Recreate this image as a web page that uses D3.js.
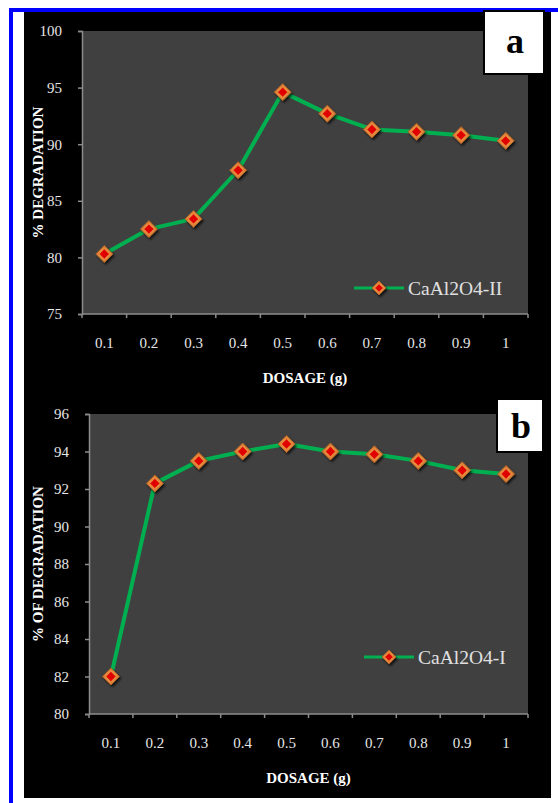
<!DOCTYPE html>
<html>
<head>
<meta charset="utf-8">
<script src="https://cdn.jsdelivr.net/npm/d3@7"></script>
<style>
body { margin: 0; background: #fff; }
svg { display: block; }
svg text { font-family: "Liberation Serif", "Times New Roman", "DejaVu Serif", serif; }
</style>
</head>
<body>
<div id="plotDiv"></div>
<script>
// --- Data ---
const dosage = ["0.1", "0.2", "0.3", "0.4", "0.5", "0.6", "0.7", "0.8", "0.9", "1"];
const degradationII = [80.3, 82.5, 83.4, 87.7, 94.6, 92.7, 91.3, 91.1, 90.8, 90.3];
const degradationI = [82.0, 92.3, 93.5, 94.0, 94.4, 94.0, 93.85, 93.5, 93.0, 92.8];
const yTicksA = [75, 80, 85, 90, 95, 100];
const yTicksB = [80, 82, 84, 86, 88, 90, 92, 94, 96];

const width = 558, height = 803;
const serif = "Liberation Serif, Times New Roman, serif";

// --- SVG Setup ---
const svg = d3.select("#plotDiv")
  .append("svg")
  .attr("width", width)
  .attr("height", height);

const defs = svg.append("defs");
const shadow = defs.append("filter").attr("id", "shadow")
  .attr("x", "-50%").attr("y", "-50%").attr("width", "200%").attr("height", "200%");
shadow.append("feDropShadow")
  .attr("dx", 1.5).attr("dy", 2).attr("stdDeviation", 1.2)
  .attr("flood-color", "#000").attr("flood-opacity", 0.7);

const grad = defs.append("radialGradient").attr("id", "orange");
grad.append("stop").attr("offset", "0%").attr("stop-color", "#f5a050");
grad.append("stop").attr("offset", "100%").attr("stop-color", "#d9782e");

// --- Frame ---
svg.append("rect").attr("x", 24).attr("y", 12).attr("width", 527).attr("height", 786).attr("fill", "#000");
svg.append("rect").attr("x", 9).attr("y", 8).attr("width", 4).attr("height", height - 8).attr("fill", "#0000ff");
svg.append("rect").attr("x", 9).attr("y", 8).attr("width", width - 9).attr("height", 4).attr("fill", "#0000ff");

function diamond(g, r) {
  const outer = `M0,${-r} L${r},0 L0,${r} L${-r},0 Z`;
  const ri = r * 0.55;
  const inner = `M0,${-ri} L${ri},0 L0,${ri} L${-ri},0 Z`;
  g.append("path").attr("d", outer)
    .attr("fill", "url(#orange)").attr("stroke", "#a8622a").attr("stroke-width", 1)
    .attr("filter", "url(#shadow)");
  g.append("path").attr("d", inner).attr("fill", "#e00000");
}

function panel(cfg) {
  const x = d3.scaleBand().domain(dosage).range([cfg.left, cfg.right]);
  const y = d3.scaleLinear().domain([cfg.ticks[0], cfg.ticks[cfg.ticks.length - 1]]).range([cfg.bottom, cfg.top]);

  // plot area
  svg.append("rect")
    .attr("x", cfg.left).attr("y", cfg.top)
    .attr("width", cfg.right - cfg.left).attr("height", cfg.bottom - cfg.top)
    .attr("fill", "#404040");

  // y axis
  const yAxis = svg.append("g")
    .attr("transform", `translate(${cfg.left},0)`)
    .call(d3.axisLeft(y).tickValues(cfg.ticks).tickSize(4).tickPadding(cfg.pad));
  yAxis.attr("font-family", null);
  yAxis.select(".domain").attr("stroke", "#8c8c8c").attr("stroke-width", 1.5);
  yAxis.selectAll(".tick line").attr("stroke", "#8c8c8c").attr("stroke-width", 1.5);
  yAxis.selectAll(".tick text")
    .attr("fill", "#e6e6e6").style("font-size", "15px");

  // x axis (ticks between categories)
  const xAxis = svg.append("g").attr("transform", `translate(0,${cfg.bottom})`);
  xAxis.append("line")
    .attr("x1", cfg.left).attr("x2", cfg.right)
    .attr("stroke", "#8c8c8c").attr("stroke-width", 1.5);
  const edges = dosage.map(d => x(d)).concat([x(dosage[dosage.length - 1]) + x.bandwidth()]);
  xAxis.selectAll(".xt").data(edges).join("line")
    .attr("x1", d => d).attr("x2", d => d).attr("y1", 0).attr("y2", 4)
    .attr("stroke", "#8c8c8c").attr("stroke-width", 1.5);
  xAxis.selectAll("text").data(dosage).join("text")
    .attr("x", d => x(d) + x.bandwidth() / 2)
    .attr("y", 34)
    .attr("text-anchor", "middle")
    .attr("fill", "#e6e6e6").style("font-size", "15px")
    .text(d => d);

  // line
  const line = d3.line()
    .x((d, i) => x(dosage[i]) + x.bandwidth() / 2)
    .y(d => y(d));
  svg.append("path").datum(cfg.values)
    .attr("d", line)
    .attr("fill", "none")
    .attr("stroke", "#00b050").attr("stroke-width", 4)
    .attr("stroke-linejoin", "round");

  // markers
  cfg.values.forEach((v, i) => {
    const g = svg.append("g")
      .attr("transform", `translate(${x(dosage[i]) + x.bandwidth() / 2},${y(v)})`);
    diamond(g, 8.5);
  });

  // legend
  svg.append("line")
    .attr("x1", cfg.legX).attr("x2", cfg.legX + 50)
    .attr("y1", cfg.legY).attr("y2", cfg.legY)
    .attr("stroke", "#00b050").attr("stroke-width", 3);
  diamond(svg.append("g").attr("transform", `translate(${cfg.legX + 25},${cfg.legY})`), 7);
  svg.append("text")
    .attr("x", cfg.legX + 54).attr("y", cfg.legY + 7)
    .attr("fill", "#e0e0e0").style("font-size", "19.5px")
    .text(cfg.name);

  // axis titles
  svg.append("text")
    .attr("x", (cfg.left + cfg.right) / 2).attr("y", cfg.bottom + 69)
    .attr("text-anchor", "middle")
    .attr("fill", "#fff").style("font-weight", "bold").style("font-size", "15px")
    .text("DOSAGE (g)");
  svg.append("text")
    .attr("transform", `translate(43,${(cfg.top + cfg.bottom) / 2}) rotate(-90)`)
    .attr("text-anchor", "middle")
    .attr("fill", "#fff").style("font-weight", "bold").style("font-size", "15px")
    .text(cfg.yTitle);

  // panel letter box
  svg.append("rect")
    .attr("x", cfg.box[0]).attr("y", cfg.box[1])
    .attr("width", cfg.box[2]).attr("height", cfg.box[3])
    .attr("fill", "#fff").attr("stroke", "#000").attr("stroke-width", 2);
  svg.append("text")
    .attr("x", cfg.box[0] + cfg.box[2] / 2 + 1).attr("y", cfg.box[1] + cfg.box[3] / 2 + cfg.letterDy)
    .attr("text-anchor", "middle")
    .attr("fill", "#000").style("font-weight", "bold").style("font-size", "36px")
    .text(cfg.letter);
}

panel({
  values: degradationII, ticks: yTicksA, name: "CaAl2O4-II",
  left: 82, right: 528, top: 31, bottom: 314, pad: 16,
  legX: 354, legY: 288, yTitle: "% DEGRADATION",
  box: [484, 11, 60, 63], letter: "a", letterDy: 10
});

panel({
  values: degradationI, ticks: yTicksB, name: "CaAl2O4-I",
  left: 89, right: 528, top: 414, bottom: 714, pad: 16,
  legX: 364, legY: 657, yTitle: "% OF DEGRADATION",
  box: [497, 399, 46, 53], letter: "b", letterDy: 12
});
</script>
</body>
</html>
